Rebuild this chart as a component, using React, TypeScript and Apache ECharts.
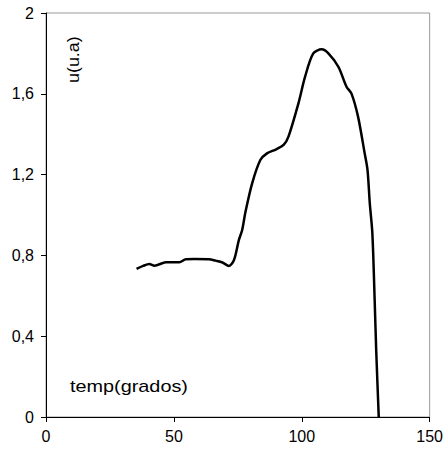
import React, { useEffect, useRef } from "react";
import * as echarts from "echarts";

const tempX: number[] = [35.4, 38, 40.4, 42.4, 46.9, 52.1, 54.7, 58, 63.7, 66.3, 69, 71.5, 73.5, 75.4, 76.7, 78, 80.6, 83.8, 86.4, 90, 92.9, 94.8, 98.7, 101.3, 104.5, 107.8, 110.4, 114.3, 117.5, 119.4, 122, 124.6, 125.7, 126.6, 127.6, 128.5, 129.1, 130.1];
const uY: number[] = [0.733, 0.748, 0.757, 0.749, 0.766, 0.766, 0.781, 0.782, 0.781, 0.774, 0.765, 0.748, 0.777, 0.876, 0.926, 1.016, 1.157, 1.272, 1.305, 1.325, 1.347, 1.388, 1.553, 1.685, 1.8, 1.82, 1.8, 1.734, 1.635, 1.602, 1.487, 1.305, 1.223, 1.057, 0.909, 0.579, 0.332, 0];
const xTicks = { min: 0, max: 150, interval: 50 };
const yTicks = { min: 0, max: 2, interval: 0.4 };
const xName = "temp(grados)";
const yName = "u(u.a)";

export default function App() {
  const ref = useRef<HTMLDivElement>(null);
  useEffect(() => {
    if (!ref.current) return;
    const chart = echarts.init(ref.current, null, { renderer: "svg" });
    const font = "Liberation Sans, Arial, sans-serif";
    chart.setOption({
      animation: false,
      backgroundColor: "#fff",
      grid: {
        left: 46,
        right: 14,
        top: 13,
        bottom: 38,
        show: true,
        borderColor: "#999",
        borderWidth: 1,
      },
      xAxis: {
        type: "value",
        min: xTicks.min,
        max: xTicks.max,
        interval: xTicks.interval,
        axisLine: { show: true, lineStyle: { color: "#000", width: 1 } },
        axisTick: { show: true, inside: false, length: 5, lineStyle: { color: "#000" } },
        splitLine: { show: false },
        axisLabel: { color: "#000", fontFamily: font, fontSize: 16, margin: 11 },
      },
      yAxis: {
        type: "value",
        min: yTicks.min,
        max: yTicks.max,
        interval: yTicks.interval,
        axisLine: { show: true, lineStyle: { color: "#000", width: 1 } },
        axisTick: { show: true, inside: false, length: 5, lineStyle: { color: "#000" } },
        splitLine: { show: false },
        axisLabel: {
          color: "#000",
          fontFamily: font,
          fontSize: 16,
          margin: 12,
          formatter: (v: number) => String(Math.round(v * 10) / 10).replace(".", ","),
        },
      },
      series: [
        {
          type: "line",
          data: tempX.map((x, i) => [x, uY[i]]),
          showSymbol: false,
          smooth: 0.3,
          lineStyle: { color: "#000", width: 2.5 },
        },
      ],
      graphic: [
        {
          type: "text",
          x: 70,
          y: 379,
          scaleX: 1.24,
          style: { text: xName, fill: "#000", font: `16px ${font}`, textVerticalAlign: "top" },
        },
        {
          type: "text",
          x: 66,
          y: 83,
          rotation: Math.PI / 2,
          scaleX: 1.12,
          style: { text: yName, fill: "#000", font: `16px ${font}`, textVerticalAlign: "top" },
        },
      ],
    });
    return () => chart.dispose();
  }, []);
  return (
    <div
      ref={ref}
      style={{ width: 446, height: 455, position: "fixed", left: 0, top: 0 }}
    />
  );
}
